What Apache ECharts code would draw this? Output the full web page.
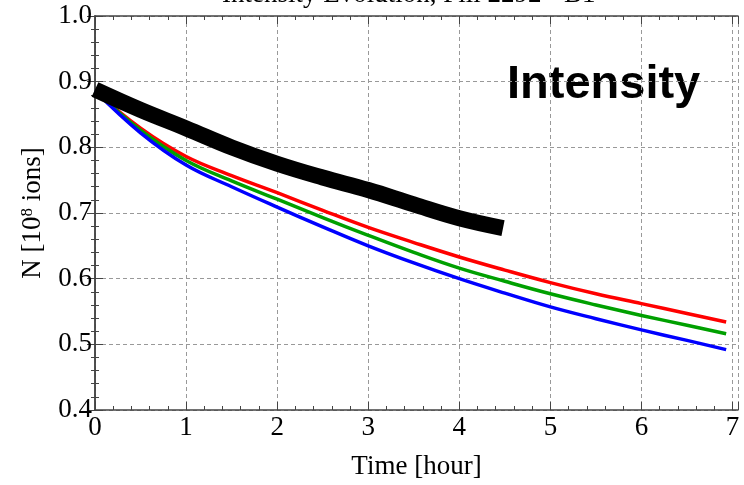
<!DOCTYPE html>
<html>
<head>
<meta charset="utf-8">
<script src="https://cdn.jsdelivr.net/npm/echarts@6/dist/echarts.min.js"></script>
<style>
  html, body { margin: 0; padding: 0; background: #fff; }
  #chart { width: 744px; height: 485px; }
</style>
</head>
<body>
<div id="chart"></div>
<script>
// time [hour] and N [1e8 ions]
const timeSim = [0, 0.5, 1, 1.5, 2, 2.5, 3, 3.5, 4, 4.5, 5, 5.5, 6, 6.5, 6.93];
const redVals = [0.886, 0.829, 0.786, 0.757, 0.731, 0.704, 0.678, 0.655, 0.633, 0.613, 0.594, 0.577, 0.562, 0.547, 0.534];
const greenVals = [0.886, 0.826, 0.780, 0.749, 0.721, 0.693, 0.666, 0.640, 0.616, 0.596, 0.577, 0.560, 0.544, 0.529, 0.516];
const blueVals = [0.886, 0.822, 0.773, 0.740, 0.709, 0.679, 0.650, 0.624, 0.600, 0.578, 0.557, 0.539, 0.522, 0.506, 0.492];

const timeMeas = [0, 0.5, 1, 1.5, 2, 2.5, 3, 3.5, 4, 4.48];
const measVals = [0.888, 0.857, 0.829, 0.800, 0.775, 0.754, 0.735, 0.713, 0.692, 0.677];

const serif = '"Liberation Serif", "DejaVu Serif", serif';
const frameColor = '#444';

const toPairs = (xs, ys) => xs.map((x, i) => [x, ys[i]]);

const lineSeries = (name, xs, ys, color, width) => ({
  name,
  type: 'line',
  data: toPairs(xs, ys),
  smooth: 0.4,
  symbol: 'none',
  clip: true,
  xAxisIndex: 0,
  yAxisIndex: 0,
  lineStyle: { color, width, cap: 'butt', join: 'round' }
});

const frameAxis = (extra) => ({
  type: 'value',
  axisLine: { show: true, lineStyle: { color: frameColor, width: 1.5 } },
  axisTick: { show: true, inside: true, length: 8, lineStyle: { color: frameColor, width: 1 } },
  minorTick: { show: true, splitNumber: 5, length: 4, lineStyle: { color: frameColor, width: 1 } },
  ...extra
});

const chart = echarts.init(document.getElementById('chart'));

chart.setOption({
  animation: false,
  title: {
    text: 'Intensity Evolution, Fill 2292 - B1',
    left: 222,
    top: -19,
    padding: 0,
    textStyle: { fontFamily: serif, fontSize: 27, fontWeight: 'normal', color: '#000' }
  },
  grid: { left: 95, right: 6, top: 16, bottom: 71 },
  graphic: [
    {
      type: 'text',
      left: 507,
      top: 62,
      style: { text: 'Intensity', font: 'bold 47px "Liberation Sans", Arial, sans-serif', fill: '#000' }
    }
  ],
  xAxis: [
    frameAxis({
      position: 'bottom',
      min: 0,
      max: 7.06,
      interval: 1,
      name: 'Time [hour]',
      nameLocation: 'middle',
      nameGap: 43,
      nameTextStyle: { fontFamily: serif, fontSize: 27, color: '#000' },
      axisLabel: {
        margin: 4,
        fontFamily: serif,
        fontSize: 27,
        color: '#000',
        formatter: (v) => (Math.abs(v - Math.round(v)) < 1e-6 ? String(Math.round(v)) : '')
      },
      splitLine: { show: true, lineStyle: { color: '#999', type: [4, 3], width: 1 } }
    }),
    frameAxis({
      position: 'top',
      min: 0,
      max: 7.06,
      interval: 1,
      axisLabel: { show: false },
      splitLine: { show: false }
    })
  ],
  yAxis: [
    frameAxis({
      position: 'left',
      min: 0.4,
      max: 1.0,
      interval: 0.1,
      name: 'N [10{sup|8} ions]',
      nameLocation: 'middle',
      nameGap: 49,
      nameTextStyle: {
        fontFamily: serif,
        fontSize: 27,
        color: '#000',
        rich: {
          sup: { fontFamily: serif, fontSize: 17, color: '#000', verticalAlign: 'top' }
        }
      },
      axisLabel: {
        margin: 3,
        fontFamily: serif,
        fontSize: 27,
        color: '#000',
        formatter: (v) => v.toFixed(1)
      },
      splitLine: { show: true, lineStyle: { color: '#999', type: [4, 3], width: 1 } }
    }),
    frameAxis({
      position: 'right',
      min: 0.4,
      max: 1.0,
      interval: 0.1,
      axisLabel: { show: false },
      splitLine: { show: false }
    })
  ],
  series: [
    lineSeries('red', timeSim, redVals, '#ff0000', 3.5),
    lineSeries('green', timeSim, greenVals, '#00a000', 3.5),
    lineSeries('blue', timeSim, blueVals, '#0000ff', 3.5),
    lineSeries('measured', timeMeas, measVals, '#000000', 16)
  ]
});
</script>
</body>
</html>
